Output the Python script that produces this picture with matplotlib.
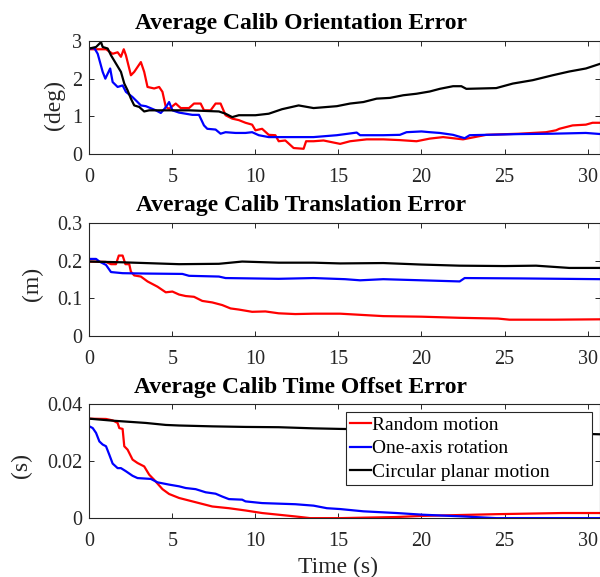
import matplotlib
matplotlib.use("Agg")
import matplotlib.pyplot as plt

plt.rcParams['font.family'] = ['Liberation Serif', 'DejaVu Serif']

labels = ["Random motion", "One-axis rotation", "Circular planar motion"]
colors = ['#ff0000', '#0000ff', '#000000']

# Orientation error (deg)
t_ori_red = [0, 1.0, 1.4, 1.7, 1.9, 2.07, 2.2, 2.5, 2.7, 2.9, 3.1, 3.3, 3.5, 3.9, 4.2, 4.4, 4.6, 4.8, 5.2, 5.5,
             6.0, 6.3, 6.7, 6.9, 7.3, 7.6, 7.9, 8.2, 8.6, 9.0, 9.4, 9.8, 10.0, 10.4, 10.8, 11.2, 11.4, 11.8, 12.3, 12.9,
             13.05, 13.5, 14.1, 15.1, 15.7, 16.7, 17.7, 18.7, 19.7, 20.5, 21.3, 22.5, 23.9, 25.9, 27.5, 28.1, 28.3, 29.1, 29.9, 30.3,
             30.8]
ori_red = [2.78, 2.78, 2.66, 2.70, 2.58, 2.78, 2.62, 2.09, 2.18, 2.31, 2.44, 2.18, 1.78, 1.74, 1.78, 1.65, 1.25, 1.20, 1.34, 1.22,
           1.22, 1.34, 1.34, 1.16, 1.16, 1.34, 1.34, 1.03, 0.94, 0.90, 0.83, 0.78, 0.63, 0.67, 0.51, 0.50, 0.34, 0.36, 0.16, 0.14,
           0.34, 0.34, 0.36, 0.27, 0.34, 0.39, 0.39, 0.37, 0.34, 0.41, 0.45, 0.39, 0.51, 0.54, 0.58, 0.63, 0.67, 0.76, 0.78, 0.83,
           0.83]
t_ori_blue = [0, 0.3, 0.5, 0.8, 0.96, 1.1, 1.25, 1.4, 1.7, 2.0, 2.2, 2.6, 2.9, 3.1, 3.4, 4.0, 4.3, 4.6, 4.8, 5.0,
              5.4, 6.2, 6.6, 6.9, 7.1, 7.6, 7.9, 8.2, 8.8, 9.4, 9.8, 10.2, 10.8, 12.0, 13.5, 14.9, 16.1, 16.3, 17.7, 18.7,
              19.1, 20.0, 20.5, 21.1, 21.9, 22.6, 22.9, 23.9, 25.9, 27.9, 29.9, 30.8]
ori_blue = [2.8, 2.81, 2.66, 2.18, 2.0, 2.13, 2.27, 1.91, 1.78, 1.82, 1.65, 1.51, 1.38, 1.29, 1.27, 1.16, 1.09, 1.24, 1.38, 1.16,
            1.10, 1.04, 1.04, 0.76, 0.67, 0.65, 0.54, 0.58, 0.56, 0.56, 0.58, 0.50, 0.45, 0.45, 0.45, 0.50, 0.57, 0.50, 0.50, 0.51,
            0.58, 0.60, 0.58, 0.56, 0.51, 0.42, 0.50, 0.51, 0.53, 0.54, 0.56, 0.53]
t_ori_black = [0, 0.4, 0.7, 0.8, 1.1, 1.3, 1.6, 1.9, 2.1, 2.3, 2.5, 2.7, 3.0, 3.3, 3.6, 4.2, 6.0, 7.8, 8.2, 8.6,
               9.0, 10.0, 10.8, 11.6, 12.6, 13.5, 14.9, 15.7, 16.5, 17.3, 18.1, 18.9, 19.7, 20.5, 21.1, 21.9, 22.4, 22.7, 24.5, 25.5,
               26.7, 27.9, 28.9, 29.9, 30.8]
ori_black = [2.8, 2.84, 2.97, 2.84, 2.8, 2.62, 2.4, 2.18, 1.87, 1.69, 1.47, 1.29, 1.25, 1.13, 1.16, 1.16, 1.16, 1.13, 1.07, 0.98,
             1.03, 1.03, 1.07, 1.19, 1.29, 1.22, 1.27, 1.34, 1.38, 1.47, 1.49, 1.56, 1.60, 1.66, 1.73, 1.80, 1.80, 1.73, 1.75, 1.87,
             1.96, 2.09, 2.19, 2.27, 2.40]

# Translation error (m)
t_tra_red = [0, 1.0, 1.3, 1.6, 1.77, 2.0, 2.17, 2.4, 2.5, 2.7, 3.1, 3.5, 4.1, 4.6, 5.0, 5.4, 5.8, 6.3, 6.8, 7.4,
             8.0, 8.5, 9.0, 9.8, 10.6, 11.4, 12.4, 13.5, 15.1, 17.7, 20.0, 22.3, 24.6, 25.3, 28.0, 30.8]
tra_red = [0.198, 0.197, 0.191, 0.191, 0.214, 0.214, 0.191, 0.191, 0.171, 0.161, 0.158, 0.145, 0.131, 0.116, 0.118, 0.110, 0.106, 0.104, 0.093, 0.089,
           0.082, 0.073, 0.070, 0.064, 0.065, 0.060, 0.058, 0.059, 0.059, 0.0525, 0.051, 0.048, 0.046, 0.043, 0.043, 0.044]
t_tra_blue = [0, 0.4, 0.6, 1.0, 1.3, 2.0, 3.4, 5.6, 6.0, 7.8, 8.2, 11.4, 13.5, 15.4, 16.3, 17.7, 22.3, 22.6, 26.0, 30.8]
tra_blue = [0.205, 0.205, 0.198, 0.189, 0.170, 0.167, 0.166, 0.165, 0.160, 0.158, 0.154, 0.152, 0.154, 0.151, 0.148, 0.151, 0.145, 0.154, 0.153, 0.151]
t_tra_black = [0, 2.0, 5.4, 7.8, 9.2, 11.4, 13.5, 15.1, 17.7, 20.0, 22.3, 25.0, 26.9, 28.9, 30.8]
tra_black = [0.198, 0.196, 0.191, 0.192, 0.198, 0.195, 0.195, 0.193, 0.194, 0.190, 0.187, 0.186, 0.187, 0.181, 0.181]

# Time offset error (s)
t_off_red = [0, 1.0, 1.4, 1.7, 1.8, 2.0, 2.1, 2.3, 2.6, 2.9, 3.3, 3.6, 3.9, 4.4, 4.8, 5.4, 6.2, 6.6, 7.4, 8.4,
             9.4, 10.4, 11.4, 12.4, 13.3, 15.1, 18.5, 20.1, 24.5, 28.5, 30.8]
off_red = [0.035, 0.0349, 0.0344, 0.0335, 0.0317, 0.0314, 0.0253, 0.0241, 0.0206, 0.0194, 0.0182, 0.0153, 0.0135, 0.0102, 0.0085, 0.0071, 0.0059, 0.0053, 0.0041, 0.0035,
           0.0027, 0.0018, 0.0012, 0.0006, 0.0, 0.0, 0.0004, 0.0008, 0.0014, 0.0018, 0.0018]
t_off_blue = [0, 0.2, 0.4, 0.6, 0.8, 1.0, 1.2, 1.4, 1.7, 1.9, 2.2, 2.6, 2.9, 3.7, 4.1, 4.8, 5.4, 5.8, 6.4, 7.0,
              7.6, 8.0, 8.4, 9.2, 9.4, 10.4, 12.4, 13.5, 14.3, 15.1, 16.5, 18.5, 20.1, 22.5, 24.5, 30.8]
off_blue = [0.0323, 0.0317, 0.030, 0.027, 0.0259, 0.0253, 0.0223, 0.0192, 0.0176, 0.0176, 0.0165, 0.0149, 0.0141, 0.0138, 0.0126, 0.0118, 0.0112, 0.0106, 0.0102, 0.0091,
            0.0086, 0.0076, 0.0067, 0.0065, 0.0059, 0.0053, 0.0049, 0.0044, 0.0035, 0.0032, 0.0024, 0.0018, 0.0012, 0.0006, 0.0, 0.0]
t_off_black = [0, 1.4, 3.4, 4.6, 5.4, 7.4, 9.4, 11.4, 13.5, 15.1, 20.0, 25.0, 29.5, 30.8]
off_black = [0.035, 0.0343, 0.0335, 0.0328, 0.0326, 0.0323, 0.0321, 0.032, 0.0316, 0.0314, 0.031, 0.0303, 0.0297, 0.0295]

titles = ["Average Calib Orientation Error", "Average Calib Translation Error", "Average Calib Time Offset Error"]
ylabels = ["(deg)", "(m)", "(s)"]
yticks = [[0, 1, 2, 3], [0, 0.1, 0.2, 0.3], [0, 0.02, 0.04]]
yticklabels = [["0", "1", "2", "3"], ["0", "0.1", "0.2", "0.3"], ["0", "0.02", "0.04"]]
xticks = [0, 5, 10, 15, 20, 25, 30]

series = [
    [(t_ori_red, ori_red), (t_ori_blue, ori_blue), (t_ori_black, ori_black)],
    [(t_tra_red, tra_red), (t_tra_blue, tra_blue), (t_tra_black, tra_black)],
    [(t_off_red, off_red), (t_off_blue, off_blue), (t_off_black, off_black)],
]

fig = plt.figure(figsize=(6, 5.77), dpi=100)
positions = [[0.149, 0.733, 0.851, 0.196], [0.149, 0.418, 0.851, 0.195], [0.149, 0.102, 0.851, 0.197]]
ylabel_x = [-0.048, -0.091, -0.112]
ylabel_y = [0.435, 0.462, 0.46]
gray = '#262626'

for i in range(3):
    ax = fig.add_axes(positions[i])
    for (t, v), c, lab in zip(series[i], colors, labels):
        ax.plot(t, v, color=c, linewidth=1.6, label=lab)
    ax.set_xlim(0, 30.75)
    ax.set_ylim(yticks[i][0], yticks[i][-1])
    ax.set_xticks(xticks)
    ax.set_yticks(yticks[i])
    ax.set_yticklabels(yticklabels[i])
    ax.tick_params(direction='in', top=True, right=True, length=3.5, width=0.7,
                   labelsize=14.5, colors=gray, labelcolor=gray)
    ax.tick_params(axis='x', pad=10)
    ax.tick_params(axis='y', pad=5)
    for s in ax.spines.values():
        s.set_color(gray)
        s.set_linewidth(0.8)
    ax.set_title(titles[i], fontsize=17, fontweight='bold', x=0.414, pad=8.5)
    ax.set_ylabel(ylabels[i], fontsize=17, color=gray)
    ax.yaxis.set_label_coords(ylabel_x[i], ylabel_y[i])
    if i == 2:
        ax.set_xlabel("Time (s)", fontsize=17, color=gray)
        ax.xaxis.set_label_coords(0.487, -0.34)
        leg = ax.legend(loc='upper left', bbox_to_anchor=(0.5026, 0.0, 0.481, 0.9296),
                        mode='expand', fontsize=14, frameon=True, fancybox=False,
                        handlelength=1.1, handletextpad=0.05, borderpad=0.2,
                        labelspacing=0.3, borderaxespad=0)
        leg.get_frame().set_edgecolor(gray)
        leg.get_frame().set_linewidth(0.8)
        leg.get_frame().set_alpha(1)

fig.savefig("out.png", dpi=100)
